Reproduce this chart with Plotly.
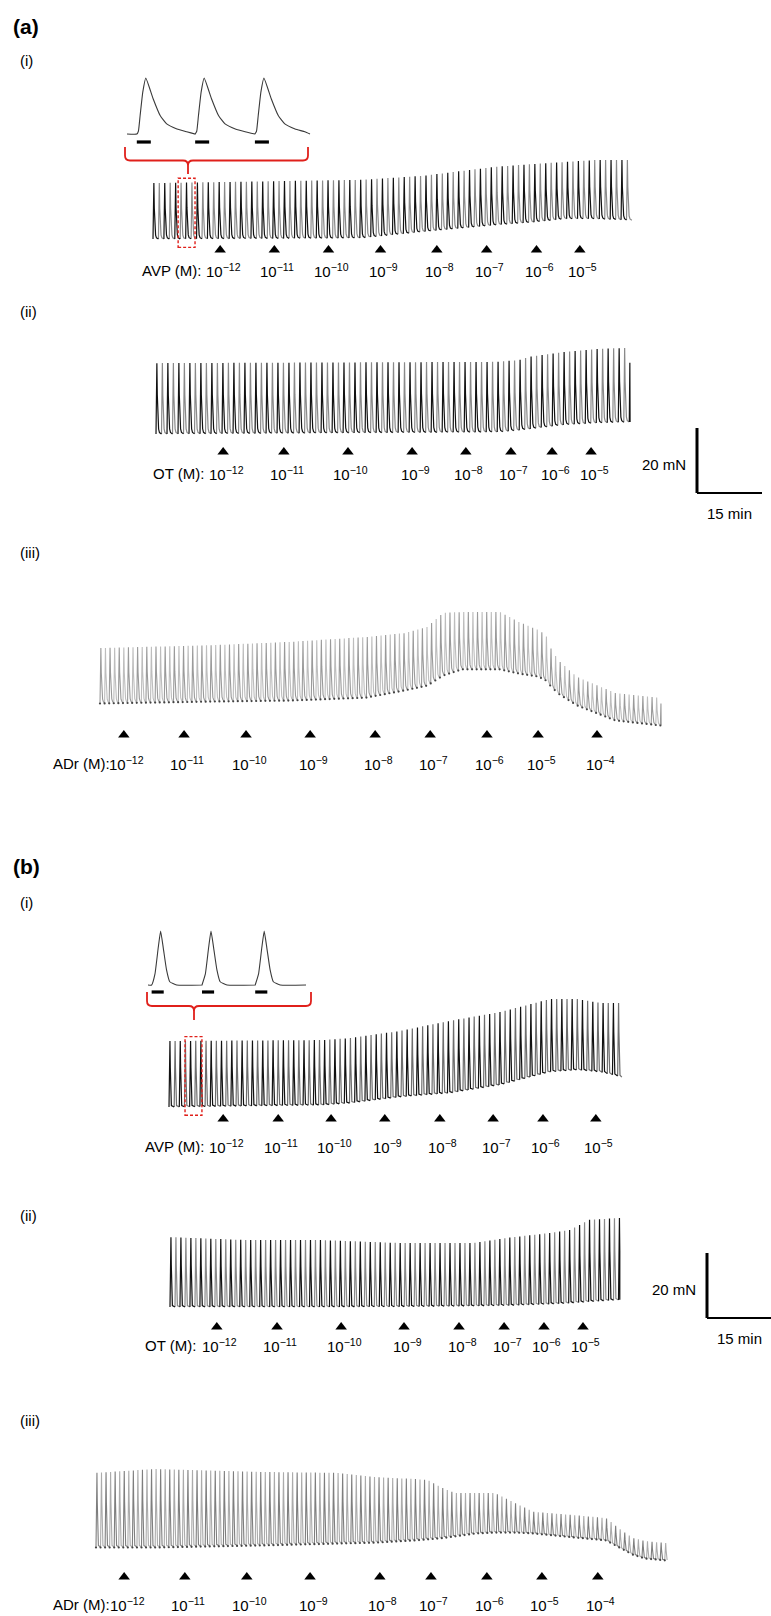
import numpy as np
import plotly.graph_objects as go

W, H = 771, 1616
PPM = 65 / 15.0   # px per minute (15 min scale bar = 65 px)
PPN = 65 / 20.0   # px per mN   (20 mN scale bar = 65 px)

# ---------------- DATA ----------------
# single contraction profile (min after onset, normalised force)
SHAPE_A_T = [0, 0.034, 0.071, 0.128, 0.193, 0.35, 0.50, 0.64, 0.86, 1.07]
SHAPE_A_F = [0, 0.05, 0.33, 0.75, 1.0, 0.63, 0.33, 0.18, 0.09, 0.04]
SHAPE_B_T = [0, 0.082, 0.165, 0.223, 0.29, 0.37, 0.45, 0.62]
SHAPE_B_F = [0, 0.20, 0.70, 1.0, 0.68, 0.28, 0.06, 0.0]
# contraction profile as it appears on the compressed main traces
MAIN_A_T = [0, 0.06, 0.13, 0.2, 0.3, 0.42, 0.6, 0.8]
MAIN_A_F = [0, 0.3, 0.8, 1.0, 0.55, 0.22, 0.07, 0.02]
MAIN_B_T = [0, 0.08, 0.16, 0.22, 0.3, 0.4, 0.55]
MAIN_B_F = [0, 0.25, 0.75, 1.0, 0.6, 0.15, 0.02]

EXP8 = [-12, -11, -10, -9, -8, -7, -6, -5]
EXP9 = [-12, -11, -10, -9, -8, -7, -6, -5, -4]

# (a)(i) AVP
A1_T = [0, 48, 62, 79, 88, 95, 102, 110.5]
A1_BASE = [0, 0.3, 2.2, 4.3, 5.2, 6.2, 6.2, 5.8]
A1_PEAK = [17.2, 18.2, 19.4, 22.2, 23.1, 23.7, 24.3, 24.3]
A1_DOSE = [15.5, 28.0, 40.5, 52.5, 65.5, 77.0, 88.5, 98.5]

# (a)(ii) OT
A2_T = [0, 79, 84, 86, 94, 102, 109.4]
A2_BASE = [0, 0.6, 1.2, 1.5, 2.8, 3.4, 3.7]
A2_PEAK = [21.8, 22.2, 22.8, 23.7, 25.2, 26.2, 26.5]
A2_DOSE = [15.5, 29.5, 44.3, 59.1, 71.5, 81.9, 91.4, 100.4]

# (a)(iii) ADr
A3_T = [0, 26.1, 43.8, 61.4, 70.2, 75.5, 79.2, 83.5, 92.3, 96.7, 101.1, 102.9,
        103.9, 105.7, 110.1, 118.9, 129.5]
A3_BASE = [0, 0.6, 0.9, 1.8, 4.0, 5.5, 8.6, 10.5, 10.5, 9.2, 8.3, 7.1, 5.5, 3.1,
           -0.6, -5.2, -6.8]
A3_PEAK = [16.9, 17.8, 18.8, 20.3, 21.5, 23.4, 27.7, 28.0, 28.0, 24.9, 22.5, 20.9,
           17.2, 13.2, 8.0, 3.1, 1.5]
A3_DOSE = [5.5, 19.4, 33.7, 48.5, 63.5, 76.2, 89.3, 101.1, 114.7]

# (b)(i) AVP
B1_T = [0, 35.5, 41.8, 53.3, 64.8, 76.4, 87.9, 94.2, 99.5, 104.5]
B1_BASE = [0, 0.6, 1.2, 3.1, 4.3, 6.8, 10.8, 11.4, 10.8, 9.2]
B1_PEAK = [20.3, 20.6, 21.2, 23.4, 26.5, 29.2, 33.2, 33.2, 32.0, 32.0]
B1_DOSE = [12.5, 25.2, 37.4, 49.8, 62.5, 74.8, 86.3, 98.5]

# (b)(ii) OT
B2_T = [0, 17.3, 34.8, 52.6, 70.2, 79.2, 87.9, 92.3, 96.7, 103.8]
B2_BASE = [0, 0, 0, 0.1, 0.3, 0.5, 0.9, 1.2, 1.6, 2.2]
B2_PEAK = [21.5, 20.6, 20.6, 19.7, 19.7, 21.5, 22.8, 23.7, 26.8, 27.4]
B2_DOSE = [10.8, 24.7, 39.5, 54.0, 66.7, 77.1, 86.3, 95.3]

# (b)(iii) ADr
B3_T = [0, 13.6, 37.4, 55.6, 64.6, 73.8, 76.6, 79.4, 82.8, 87.5, 92.1, 96.7, 101.1,
        110.3, 117.7, 121.2, 123.9, 126.7, 131.8]
B3_BASE = [0, 0, 0.6, 1.2, 1.5, 2.2, 2.5, 2.8, 3.4, 4.3, 4.6, 4.6, 4.3, 3.1, 2.2,
           -0.3, -2.2, -3.4, -4.0]
B3_PEAK = [22.8, 24.0, 23.1, 22.8, 21.5, 20.9, 20.6, 18.5, 16.6, 16.6, 16.6, 13.5,
           10.8, 9.8, 8.9, 5.2, 2.8, 1.8, 1.2]
B3_DOSE = [6.5, 20.5, 34.8, 49.4, 65.5, 77.3, 90.2, 102.9, 115.8]

# insets (expanded time, min): onsets and amplitude
INSET_A_ONSETS = [0.21, 1.46, 2.74]
INSET_A_DUR = 3.92
INSET_A_AMP = 17.2
INSET_B_ONSETS = [0.09, 1.34, 2.66]
INSET_B_DUR = 3.92
INSET_B_AMP = 16.6
WINDOW_A = (5.8, 9.7)    # region of (a)(i) shown in inset, min
WINDOW_B = (3.7, 7.6)    # region of (b)(i) shown in inset, min

FONT = "Liberation Sans, Arial, sans-serif"
FS = 15

# ---------------- LAYOUT (pixel geometry) ----------------
panels = [
    dict(t=A1_T, base=A1_BASE, peak=A1_PEAK, dose=A1_DOSE, exps=EXP8, period=1.256,
         x0=153, yref=239, arrow_y=250, label_y=270, prefix="AVP (M):", pshift=-20,
         colors=("#111111", "#8a8a8a"), shape="A", width=1.2),
    dict(t=A2_T, base=A2_BASE, peak=A2_PEAK, dose=A2_DOSE, exps=EXP8, period=1.27,
         x0=156, yref=434, arrow_y=452, label_y=473, prefix="OT (M):", pshift=-20,
         colors=("#111111", "#8a8a8a"), shape="A", width=1.2),
    dict(t=A3_T, base=A3_BASE, peak=A3_PEAK, dose=A3_DOSE, exps=EXP9, period=1.06,
         x0=100, yref=703, arrow_y=735, label_y=763, prefix="ADr (M):", pshift=-15,
         colors=("#9a9a9a", "#bdbdbd"), shape="A", width=1.1),
    dict(t=B1_T, base=B1_BASE, peak=B1_PEAK, dose=B1_DOSE, exps=EXP8, period=1.19,
         x0=169, yref=1107, arrow_y=1119, label_y=1146, prefix="AVP (M):", pshift=-20,
         colors=("#111111", "#6e6e6e"), shape="B", width=1.2),
    dict(t=B2_T, base=B2_BASE, peak=B2_PEAK, dose=B2_DOSE, exps=EXP8, period=1.15,
         x0=170, yref=1307, arrow_y=1327, label_y=1345, prefix="OT (M):", pshift=-22,
         colors=("#111111", "#8a8a8a"), shape="B", width=1.2),
    dict(t=B3_T, base=B3_BASE, peak=B3_PEAK, dose=B3_DOSE, exps=EXP9, period=1.05,
         x0=96, yref=1547, arrow_y=1577, label_y=1604, prefix="ADr (M):", pshift=-15,
         colors=("#7e7e7e", "#ababab"), shape="B", width=1.1),
]
INSET_SHAPES = {"A": (SHAPE_A_T, SHAPE_A_F), "B": (SHAPE_B_T, SHAPE_B_F)}
MAIN_SHAPES = {"A": (MAIN_A_T, MAIN_A_F), "B": (MAIN_B_T, MAIN_B_F)}


def wave(onsets, t_end, env_t, base, peak, shape):
    """returns list of per-contraction (t, f) segments"""
    st, sf = shape
    segs = []
    for i, t0 in enumerate(onsets):
        nxt = onsets[i + 1] if i + 1 < len(onsets) else t_end
        ts, fs = [], []
        for dt, f in zip(st, sf):
            t = t0 + dt
            if t >= nxt:
                break
            ts.append(t)
            fs.append(f)
        ts.append(nxt)
        fs.append(0.0)
        ts = np.array(ts)
        fs = np.array(fs)
        b = np.interp(ts, env_t, base)
        p = np.interp(ts, env_t, peak)
        segs.append((ts, b + fs * (p - b)))
    return segs


def join(segs):
    xs, ys = [], []
    for t, f in segs:
        xs += list(t) + [None]
        ys += list(f) + [None]
    return xs, ys


def px2y(py):
    return 1 - py / H


fig = go.Figure()
layout = dict(width=W, height=H, margin=dict(l=0, r=0, t=0, b=0),
              paper_bgcolor="white", plot_bgcolor="rgba(0,0,0,0)",
              showlegend=False, annotations=[], shapes=[])


def add_axes(n, x0, yref, ppm, ppn):
    sx = "" if n == 1 else str(n)
    layout["xaxis" + sx] = dict(domain=[0, 1], range=[-x0 / ppm, (W - x0) / ppm],
                                visible=False, fixedrange=True, anchor="y" + sx)
    layout["yaxis" + sx] = dict(domain=[0, 1], range=[(yref - H) / ppn, yref / ppn],
                                visible=False, fixedrange=True, anchor="x" + sx)
    return ("x" + sx, "y" + sx)


for i, p in enumerate(panels):
    xa, ya = add_axes(i + 1, p["x0"], p["yref"], PPM, PPN)
    t_end = p["t"][-1]
    onsets = list(np.arange(0, t_end, p["period"]))
    segs = wave(onsets, t_end, p["t"], p["base"], p["peak"], MAIN_SHAPES[p["shape"]])
    dark, light = p["colors"]
    xs, ys = join(segs[1::2])
    fig.add_trace(go.Scatter(x=xs, y=ys, mode="lines", xaxis=xa, yaxis=ya,
                             line=dict(color=light, width=p["width"]),
                             hoverinfo="skip"))
    xs, ys = join(segs[0::2])
    fig.add_trace(go.Scatter(x=xs, y=ys, mode="lines", xaxis=xa, yaxis=ya,
                             line=dict(color=dark, width=p["width"]),
                             hoverinfo="skip"))
    if p["colors"][0] != "#111111":
        tb = np.array(onsets)
        fig.add_trace(go.Scatter(x=tb, y=np.interp(tb, p["t"], p["base"]) - 0.15,
                                 mode="markers", xaxis=xa, yaxis=ya,
                                 marker=dict(color="#444444", size=2.2),
                                 hoverinfo="skip"))
    # dose arrowheads
    ay = (p["yref"] - p["arrow_y"]) / PPN
    fig.add_trace(go.Scatter(x=p["dose"], y=[ay] * len(p["dose"]), mode="markers",
                             xaxis=xa, yaxis=ya, cliponaxis=False,
                             marker=dict(symbol="triangle-up", size=10, color="black"),
                             hoverinfo="skip"))
    for d, e in zip(p["dose"], p["exps"]):
        layout["annotations"].append(dict(
            x=d, y=px2y(p["label_y"]), xref=xa, yref="paper", xshift=3,
            text="10<sup>\u2212%d</sup>" % abs(e), showarrow=False,
            xanchor="center", yanchor="middle",
            font=dict(family=FONT, size=FS, color="black")))
    layout["annotations"].append(dict(
        x=p["dose"][0], y=px2y(p["label_y"]), xref=xa, yref="paper",
        xshift=3 + p["pshift"], text=p["prefix"], showarrow=False,
        xanchor="right", yanchor="middle",
        font=dict(family=FONT, size=FS, color="black")))

# ---------------- insets ----------------
insets = [
    dict(n=7, onsets=INSET_A_ONSETS, dur=INSET_A_DUR, amp=INSET_A_AMP, shape="A",
         x0=127, x1=310, yref=134, bar_dy=8, main=0, window=WINDOW_A,
         br=(125, 308, 147, 160.5, 188, 174)),
    dict(n=8, onsets=INSET_B_ONSETS, dur=INSET_B_DUR, amp=INSET_B_AMP, shape="B",
         x0=148, x1=306, yref=985, bar_dy=7, main=3, window=WINDOW_B,
         br=(147, 311, 992, 1006, 194, 1020)),
]
for ins in insets:
    ppm_i = (ins["x1"] - ins["x0"]) / ins["dur"]
    xa, ya = add_axes(ins["n"], ins["x0"], ins["yref"], ppm_i, PPN)
    segs = wave(ins["onsets"], ins["dur"], [0, ins["dur"]], [0, 0],
                [ins["amp"], ins["amp"]], INSET_SHAPES[ins["shape"]])
    ts = [0.0] + [v for s in segs for v in s[0]]
    fs = [0.0] + [v for s in segs for v in s[1]]
    fig.add_trace(go.Scatter(x=ts, y=fs, mode="lines", xaxis=xa, yaxis=ya,
                             line=dict(color="#3a3a3a", width=1.1, shape="spline",
                                       smoothing=0.4),
                             hoverinfo="skip"))
    by = -ins["bar_dy"] / PPN
    bx, byy = [], []
    for o in ins["onsets"]:
        bx += [o, o + 0.3, None]
        byy += [by, by, None]
    fig.add_trace(go.Scatter(x=bx, y=byy, mode="lines", xaxis=xa, yaxis=ya,
                             line=dict(color="black", width=3.2), hoverinfo="skip"))
    # red dashed window on main trace
    mp = panels[ins["main"]]
    mxa = "x" if ins["main"] == 0 else "x%d" % (ins["main"] + 1)
    mya = "y" if ins["main"] == 0 else "y%d" % (ins["main"] + 1)
    w0, w1 = ins["window"]
    ylo = min(np.interp([w0, w1], mp["t"], mp["base"])) - 2.6
    yhi = max(np.interp([w0, w1], mp["t"], mp["peak"])) + 1.3
    layout["shapes"].append(dict(type="rect", xref=mxa, yref=mya, x0=w0, x1=w1,
                                 y0=ylo, y1=yhi,
                                 line=dict(color="#e0201b", width=1.4, dash="3px,2px")))
    # red curly bracket (pixel geometry)
    L, R, T, B, M, Tip = ins["br"]
    r = 5

    def P(x, y):
        return "%.5f,%.5f" % (x / W, 1 - y / H)
    path = ("M" + P(L, T) + " L" + P(L, B - r) + " Q" + P(L, B) + " " + P(L + r, B) +
            " L" + P(M - r, B) + " Q" + P(M, B) + " " + P(M, B + r) + " L" + P(M, Tip) +
            " M" + P(M, B + r) + " Q" + P(M, B) + " " + P(M + r, B) +
            " L" + P(R - r, B) + " Q" + P(R, B) + " " + P(R, B - r) + " L" + P(R, T))
    layout["shapes"].append(dict(type="path", xref="paper", yref="paper", path=path,
                                 line=dict(color="#e0201b", width=1.8)))

# ---------------- scale bars ----------------
SCALEBARS = [("x2", "y2", 697, 493, 156, 434), ("x5", "y5", 707, 1318, 170, 1307)]
for xa, ya, bx, by, x0, yref in SCALEBARS:
    tx = (bx - x0) / PPM
    fy = (yref - by) / PPN
    layout["shapes"].append(dict(type="line", xref=xa, yref=ya, x0=tx, x1=tx,
                                 y0=fy, y1=fy + 20, line=dict(color="black", width=3)))
    layout["shapes"].append(dict(type="line", xref=xa, yref=ya, x0=tx, x1=tx + 15,
                                 y0=fy, y1=fy, line=dict(color="black", width=2)))
    layout["annotations"].append(dict(x=tx, y=fy + 10, xref=xa, yref=ya, xshift=-9,
                                      yshift=-4, text="20 mN", showarrow=False,
                                      xanchor="right", yanchor="middle",
                                      font=dict(family=FONT, size=FS, color="black")))
    layout["annotations"].append(dict(x=tx + 7.5, y=fy, xref=xa, yref=ya, yshift=-20,
                                      text="15 min", showarrow=False,
                                      xanchor="center", yanchor="middle",
                                      font=dict(family=FONT, size=FS, color="black")))

# ---------------- panel letters ----------------
for txt, px, py, bold in [("(a)", 11, 27, True), ("(i)", 18, 61, False),
                          ("(ii)", 18, 312, False), ("(iii)", 18, 552, False),
                          ("(b)", 11, 866, True), ("(i)", 18, 902, False),
                          ("(ii)", 18, 1215, False), ("(iii)", 18, 1420, False)]:
    layout["annotations"].append(dict(
        x=px / W, y=px2y(py), xref="paper", yref="paper",
        text="<b>%s</b>" % txt if bold else txt, showarrow=False,
        xanchor="left", yanchor="middle",
        font=dict(family=FONT, size=21 if bold else FS, color="black")))

fig.update_layout(**layout)
fig.write_html("out.html", config={"displayModeBar": False})
